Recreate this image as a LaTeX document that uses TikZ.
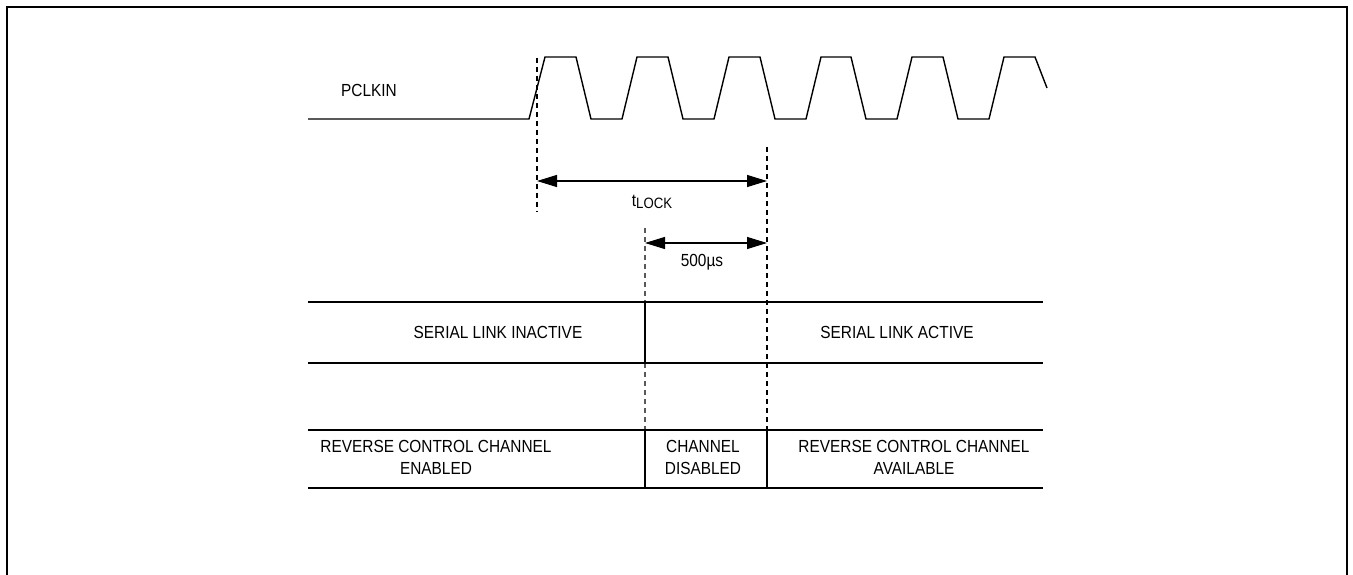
\documentclass[tikz,border=0pt]{standalone}
\usepackage{fontspec}
\usepackage{graphicx}
\setmainfont{Liberation Sans}
\usetikzlibrary{arrows.meta}
\newcommand\narrowtxt[1]{\scalebox{0.88}[1]{#1}}
\begin{document}
\begin{tikzpicture}[x=1pt,y=-1pt,
  wave/.style={line width=1.4pt, line join=miter},
  tbl/.style={line width=1.4pt},
  dashv/.style={line width=1.2pt, dash pattern=on 5pt off 4pt},
  dashg/.style={dashv, draw=black!65},
  dimarrow/.style={line width=1.2pt, {Triangle[length=20pt,width=12pt]}-{Triangle[length=20pt,width=12pt]}},
  lbl/.style={font=\fontsize{17.5}{22}\selectfont, inner sep=0pt, align=center}]
\useasboundingbox (0,0) rectangle (1353,575);
% frame
\draw[line width=2.5pt] (7,575) -- (7,7) -- (1347,7) -- (1347,575);
% PCLKIN waveform
\draw[wave] (308,119) -- (529,119) -- (545,57) -- (576,57) -- (591,119) -- (622,119)
  -- (637,57) -- (668,57) -- (683,119) -- (714,119) -- (729,57) -- (760,57)
  -- (775,119) -- (806,119) -- (821,57) -- (851,57) -- (866,119) -- (897,119)
  -- (912,57) -- (943,57) -- (958,119) -- (989,119) -- (1004,57) -- (1035,57) -- (1047,88);
\node[lbl] (pclk) at (369,90) {\narrowtxt{PCLKIN}};
% coordinates
\coordinate (d1top) at (537,58);
\coordinate (d1bot) at (537,212);
\coordinate (d3top) at (767,147);
\coordinate (d3bot) at (767,430);
\coordinate (d2top) at (645,228);
\coordinate (r1) at (645,302);
\coordinate (r2) at (645,363);
\coordinate (r3) at (645,430);
\coordinate (r4) at (645,488);
\coordinate (s3) at (767,488);
\coordinate (a1l) at (537,181);
\coordinate (a1r) at (767,181);
\coordinate (a2l) at (645,243);
\coordinate (a2r) at (767,243);
\coordinate (tl1) at (308,302); \coordinate (tr1) at (1043,302);
\coordinate (tl2) at (308,363); \coordinate (tr2) at (1043,363);
\coordinate (tl3) at (308,430); \coordinate (tr3) at (1043,430);
\coordinate (tl4) at (308,488); \coordinate (tr4) at (1043,488);
% dashed markers
\draw[dashv] (d1top) -- (d1bot);
\draw[dashv] (d3top) -- (d3bot);
\draw[dashg] (d2top) -- (r1);
\draw[dashg] (r2) -- (r3);
% dimension arrows
\draw[dimarrow] (a1l) -- (a1r);
\draw[dimarrow] (a2l) -- (a2r);
\node[lbl] (tlock) at (652,202) {\narrowtxt{t\raisebox{-0.3ex}{\fontsize{15}{16}\selectfont LOCK}}};
\node[lbl] (t500) at (702,262) {\narrowtxt{500µs}};
% table
\draw[tbl] (tl1) -- (tr1);
\draw[tbl] (tl2) -- (tr2);
\draw[tbl] (tl3) -- (tr3);
\draw[tbl] (tl4) -- (tr4);
\draw[tbl] (r1) -- (r2);
\draw[tbl] (r3) -- (r4);
\draw[tbl] (d3bot) -- (s3);
\node[lbl] (sli) at (498,332) {\narrowtxt{SERIAL LINK INACTIVE}};
\node[lbl] (sla) at (897,332) {\narrowtxt{SERIAL LINK ACTIVE}};
\node[lbl] (rce) at (436,457) {\narrowtxt{REVERSE CONTROL CHANNEL}\\\narrowtxt{ENABLED}};
\node[lbl] (chd) at (703,457) {\narrowtxt{CHANNEL}\\\narrowtxt{DISABLED}};
\node[lbl] (rca) at (914,457) {\narrowtxt{REVERSE CONTROL CHANNEL}\\\narrowtxt{AVAILABLE}};
\end{tikzpicture}
\end{document}
